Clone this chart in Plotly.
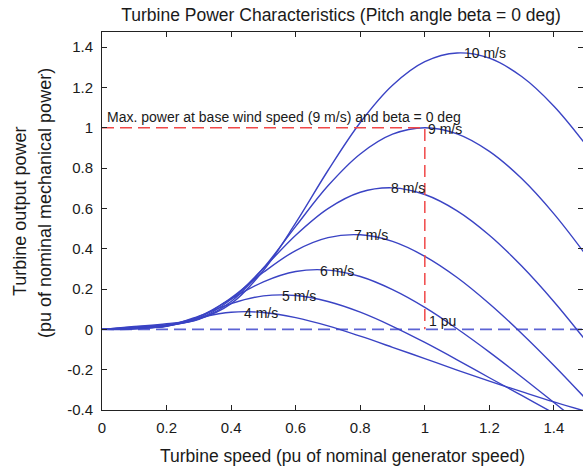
import plotly.graph_objects as go

# Turbine speed (pu of nominal generator speed)
speed = [0.0, 0.1, 0.2, 0.3, 0.4, 0.5, 0.6, 0.7, 0.8, 0.9, 1.0, 1.1, 1.2, 1.3, 1.4, 1.5]

# Turbine output power (pu) per wind speed
p10 = [0, 0.014, 0.028, 0.052, 0.128, 0.292, 0.528, 0.788, 1.026, 1.211, 1.328, 1.371, 1.345, 1.254, 1.107, 0.913]
p9 = [0, 0.012, 0.023, 0.050, 0.138, 0.304, 0.511, 0.712, 0.870, 0.968, 1.000, 0.970, 0.883, 0.748, 0.573, 0.367]
p8 = [0, 0.009, 0.019, 0.052, 0.149, 0.303, 0.467, 0.599, 0.680, 0.702, 0.669, 0.588, 0.467, 0.314, 0.137, -0.059]
p7 = [0, 0.007, 0.016, 0.057, 0.156, 0.283, 0.391, 0.455, 0.469, 0.436, 0.362, 0.257, 0.127, -0.020, -0.179, -0.347]
p6 = [0, 0.005, 0.015, 0.063, 0.151, 0.236, 0.287, 0.294, 0.262, 0.197, 0.109, 0.003, -0.113, -0.236, -0.363, -0.491]
p5 = [0, 0.004, 0.016, 0.066, 0.128, 0.166, 0.168, 0.138, 0.085, 0.015, -0.065, -0.151, -0.240, -0.328, -0.416, -0.501]
p4 = [0, 0.002, 0.019, 0.058, 0.085, 0.084, 0.058, 0.017, -0.034, -0.089, -0.145, -0.202, -0.257, -0.309, -0.360, -0.407]

series = [p10, p9, p8, p7, p6, p5, p4]

# Curve labels: text, x, y
label_text = ["10 m/s", "9 m/s", "8 m/s", "7 m/s", "6 m/s", "5 m/s", "4 m/s"]
label_x = [1.115, 1.003, 0.89, 0.775, 0.67, 0.55, 0.435]
label_y = [1.37, 0.995, 0.70, 0.47, 0.29, 0.165, 0.082]

# Reference lines
max_point_x = [0, 1, 1]
max_point_y = [1, 1, 0]
zero_x = [0, 1.5]
zero_y = [0, 0]

x_ticks = [0, 0.2, 0.4, 0.6, 0.8, 1, 1.2, 1.4]
x_tick_text = ["0", "0.2", "0.4", "0.6", "0.8", "1", "1.2", "1.4"]
y_ticks = [-0.4, -0.2, 0, 0.2, 0.4, 0.6, 0.8, 1, 1.2, 1.4]
y_tick_text = ["-0.4", "-0.2", "0", "0.2", "0.4", "0.6", "0.8", "1", "1.2", "1.4"]

BLUE = "#3a43c4"
FONT = "Liberation Sans, Arial, Helvetica, sans-serif"
TXT = "#1a1a1a"

fig = go.Figure()

fig.add_trace(go.Scatter(x=zero_x, y=zero_y, mode="lines",
                         line=dict(color="#5c63d4", width=1.8, dash="12px,6px"),
                         hoverinfo="skip", showlegend=False))

for s in series:
    fig.add_trace(go.Scatter(x=speed, y=s, mode="lines",
                             line=dict(color=BLUE, width=1.4, shape="spline", smoothing=1.0),
                             showlegend=False))

fig.add_trace(go.Scatter(x=max_point_x, y=max_point_y, mode="lines",
                         line=dict(color="#f04848", width=1.5, dash="12px,6px"),
                         hoverinfo="skip", showlegend=False))

for t, x, y in zip(label_text, label_x, label_y):
    fig.add_annotation(x=x, y=y, xref="x", yref="y", text=t, showarrow=False,
                       xanchor="left", yanchor="middle",
                       font=dict(family=FONT, size=14, color=TXT))

fig.add_annotation(x=0.008, y=1.052, xref="x", yref="y",
                   text="Max. power at base wind speed (9 m/s) and beta = 0 deg",
                   showarrow=False, xanchor="left", yanchor="middle",
                   font=dict(family=FONT, size=14, color=TXT))
fig.add_annotation(x=1.007, y=0.04, xref="x", yref="y", text="1 pu",
                   showarrow=False, xanchor="left", yanchor="middle",
                   font=dict(family=FONT, size=14, color=TXT))

# Y-axis title (two lines)
fig.add_annotation(x=-82 / 481, y=(410 - 212) / 378, xref="paper", yref="paper",
                   text="Turbine output power", textangle=-90, showarrow=False,
                   xanchor="center", yanchor="middle",
                   font=dict(family=FONT, size=18, color=TXT))
fig.add_annotation(x=-57 / 481, y=(410 - 203) / 378, xref="paper", yref="paper",
                   text="(pu of nominal mechanical power)", textangle=-90, showarrow=False,
                   xanchor="center", yanchor="middle",
                   font=dict(family=FONT, size=18, color=TXT))

fig.update_layout(
    width=583, height=470,
    margin=dict(l=102, r=0, t=32, b=60),
    paper_bgcolor="white", plot_bgcolor="white",
    title=dict(text="Turbine Power Characteristics (Pitch angle beta = 0 deg)",
               x=(341) / 583, xanchor="center", xref="container",
               y=1 - 15 / 470, yanchor="middle", yref="container",
               font=dict(family=FONT, size=17.5, color=TXT)),
    xaxis=dict(range=[0, 1.49], tickvals=x_ticks, ticktext=x_tick_text,
               ticks="inside", ticklen=5, tickcolor="#222", mirror="ticks",
               showline=True, linecolor="#222", linewidth=1,
               showgrid=False, zeroline=False, ticklabelstandoff=4,
               tickfont=dict(family=FONT, size=15, color=TXT),
               title=dict(text="Turbine speed (pu of nominal generator speed)",
                          font=dict(family=FONT, size=17.5, color=TXT), standoff=14)),
    yaxis=dict(range=[-0.4, 1.475], tickvals=y_ticks, ticktext=y_tick_text,
               ticks="inside", ticklen=5, tickcolor="#222", mirror="ticks",
               showline=True, linecolor="#222", linewidth=1,
               showgrid=False, zeroline=False, ticklabelstandoff=5,
               tickfont=dict(family=FONT, size=15, color=TXT)),
)

fig.write_html("out.html", config={"displayModeBar": False},
               post_script="document.body.style.margin='0px';document.body.style.overflow='hidden';")
